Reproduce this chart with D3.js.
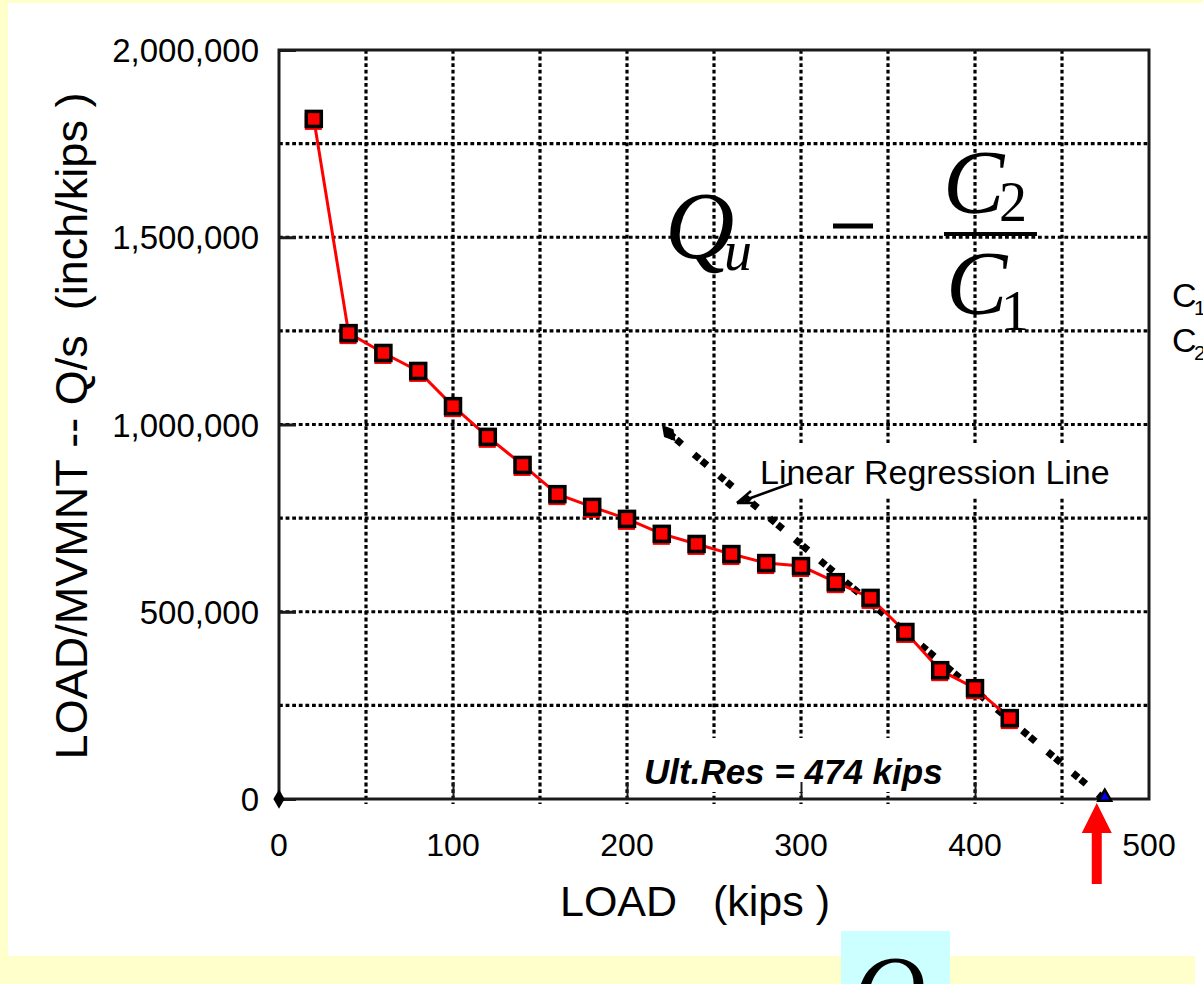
<!DOCTYPE html>
<html><head><meta charset="utf-8">
<script src="https://cdn.jsdelivr.net/npm/d3@7"></script>
<style>
html,body{margin:0;padding:0;background:#FFFFCC;overflow:hidden;}
svg{display:block;}
text{font-family:'Liberation Sans',Arial,sans-serif;fill:#000;}
.serif{font-family:'Liberation Serif','Times New Roman',serif;}
</style></head><body>
<svg id="chart" width="1203" height="984"></svg>
<script>
// ---- data ----
const loads = [20, 40, 60, 80, 100, 120, 140, 160, 180, 200, 220, 240, 260, 280, 300, 320, 340, 360, 380, 400, 420];
const qOverS = [1816000, 1244000, 1191000, 1143000, 1049000, 967000, 892000, 814000, 780000, 748000, 708000, 681000, 654000, 630000, 622000, 579000, 537000, 446000, 344000, 296000, 216000];
const regLoads = [224, 474];
const regValues = [977000, 0];
const originLoad = [0];
const originValue = [0];
const ultRes = 474;
const xTicks = [0, 100, 200, 300, 400, 500];
const yTicks = [0, 500000, 1000000, 1500000, 2000000];
const xGrid = [50, 100, 150, 200, 250, 300, 350, 400, 450];
const yGrid = [250000, 500000, 750000, 1000000, 1250000, 1500000, 1750000];
const xTitle = "LOAD   (kips )";
const yTitle = "LOAD/MVMNT -- Q/s  (inch/kips )";
const regLabel = "Linear Regression Line";
const ultLabel = "Ult.Res = " + ultRes + " kips";

// ---- layout ----
const svg = d3.select("#chart");
const L = 279, R = 1149, T = 50, B = 799;
const x = d3.scaleLinear().domain([0, 500]).range([L, R]);
const y = d3.scaleLinear().domain([0, 2000000]).range([B, T]);

// background panels
svg.append("rect").attr("x", 0).attr("y", 0).attr("width", 1203).attr("height", 984).attr("fill", "#FFFFCC");
svg.append("rect").attr("x", 8).attr("y", 3).attr("width", 1195).attr("height", 953).attr("fill", "#FFFFFF");
svg.append("rect").attr("x", 1195).attr("y", 956).attr("width", 8).attr("height", 28).attr("fill", "#FFFFFF");
svg.append("rect").attr("x", 841).attr("y", 931).attr("width", 109).attr("height", 53).attr("fill", "#CCFFFF");

// gridlines
const grid = svg.append("g").attr("stroke", "#000").attr("stroke-width", 3.2).attr("stroke-dasharray", "3.8,2.8");
grid.selectAll("line.v").data(xGrid).enter().append("line")
  .attr("x1", d => x(d)).attr("x2", d => x(d)).attr("y1", T).attr("y2", B + 5);
grid.selectAll("line.h").data(yGrid).enter().append("line")
  .attr("y1", d => y(d)).attr("y2", d => y(d)).attr("x1", L).attr("x2", R);

// white label boxes
svg.append("rect").attr("x", 745).attr("y", 443).attr("width", 372).attr("height", 54).attr("fill", "#fff");
svg.append("rect").attr("x", 637).attr("y", 738).attr("width", 334).attr("height", 54).attr("fill", "#fff");

// frame
svg.append("rect").attr("x", L).attr("y", T).attr("width", R - L).attr("height", B - T)
  .attr("fill", "none").attr("stroke", "#1a1a1a").attr("stroke-width", 3);

// axes via d3
const yAxis = d3.axisRight(y).tickValues(yTicks).tickSize(17).tickFormat("");
svg.append("g").attr("transform", `translate(${L},0)`).call(yAxis)
  .call(g => g.select(".domain").remove())
  .call(g => g.selectAll("line").attr("stroke", "#1a1a1a").attr("stroke-width", 3));
const xAxis = d3.axisTop(x).tickValues(xTicks.slice(1, 5)).tickSize(17).tickFormat("");
svg.append("g").attr("transform", `translate(0,${B})`).call(xAxis)
  .call(g => g.select(".domain").remove())
  .call(g => g.selectAll("line").attr("stroke", "#1a1a1a").attr("stroke-width", 2));

// tick labels
const fmt = d3.format(",");
svg.append("g").selectAll("text").data(yTicks).enter().append("text")
  .attr("x", 259).attr("y", d => y(d) + 12).attr("text-anchor", "end")
  .attr("font-size", 33).text(d => fmt(d));
svg.append("g").selectAll("text").data(xTicks).enter().append("text")
  .attr("x", d => x(d)).attr("y", 856).attr("text-anchor", "middle")
  .attr("font-size", 32).text(d => d);

// axis titles
svg.append("text").attr("x", 695).attr("y", 916).attr("text-anchor", "middle")
  .attr("font-size", 43).style("white-space", "pre").text(xTitle);
svg.append("text").attr("transform", "translate(87,426) rotate(-90)").attr("text-anchor", "middle")
  .attr("font-size", 45).style("white-space", "pre").text(yTitle);

// regression line
const regPts = regLoads.map((d, i) => [d, regValues[i]]);
svg.append("path").datum(regPts)
  .attr("d", d3.line().x(d => x(d[0])).y(d => y(d[1])))
  .attr("fill", "none").attr("stroke", "#000").attr("stroke-width", 7).attr("stroke-dasharray", "7,3,7,16");
svg.append("path").attr("d", d3.symbol(d3.symbolDiamond, 130)())
  .attr("transform", `translate(${x(regLoads[0])},${y(regValues[0])}) rotate(-40)`).attr("fill", "#000");

// data series
const pts = loads.map((d, i) => [d, qOverS[i]]);
svg.append("path").datum(pts)
  .attr("d", d3.line().x(d => x(d[0])).y(d => y(d[1])))
  .attr("fill", "none").attr("stroke", "#FF0000").attr("stroke-width", 3);
const mk = svg.append("g").selectAll("g").data(pts).enter().append("g")
  .attr("transform", d => `translate(${x(d[0])},${y(d[1])})`);
mk.append("rect").attr("x", -9).attr("y", -6).attr("width", 17).attr("height", 17).attr("fill", "#FF0000");
mk.append("rect").attr("x", -7.5).attr("y", -7.5).attr("width", 15).attr("height", 15)
  .attr("fill", "#FF0000").attr("stroke", "#000").attr("stroke-width", 3.5);

// origin diamond
svg.append("g").selectAll("path").data(originLoad).enter().append("path")
  .attr("d", d3.symbol(d3.symbolDiamond, 110)())
  .attr("transform", (d, i) => `translate(${x(d)},${y(originValue[i])})`).attr("fill", "#000");

// ultimate resistance triangle
svg.append("path").attr("d", d3.symbol(d3.symbolTriangle, 70)())
  .attr("transform", `translate(${x(ultRes) + 1},${y(0) - 2})`)
  .attr("fill", "#0000FF").attr("stroke", "#000").attr("stroke-width", 2.5);

// red arrow
const ax = x(ultRes) - 7;
svg.append("path")
  .attr("d", `M${ax},803 L${ax + 15},833 L${ax + 5},833 L${ax + 5},884 L${ax - 5},884 L${ax - 5},833 L${ax - 15},833 Z`)
  .attr("fill", "#FF0000");

// labels
svg.append("text").attr("x", 760).attr("y", 484).attr("font-size", 34).text(regLabel);
svg.append("line").attr("x1", 792).attr("y1", 483).attr("x2", 737).attr("y2", 503)
  .attr("stroke", "#000").attr("stroke-width", 2.5);
svg.append("path").attr("d", "M737,503 L751,491 M737,503 L754,503").attr("stroke", "#000").attr("stroke-width", 2.5);
svg.append("text").attr("x", 644).attr("y", 784).attr("font-size", 35)
  .attr("font-weight", "bold").attr("font-style", "italic").style("white-space", "pre").text(ultLabel);

// formula
const f = svg.append("g");
f.append("text").attr("class", "serif").attr("x", 665).attr("y", 258).attr("font-size", 96).attr("font-style", "italic").text("Q");
f.append("text").attr("class", "serif").attr("x", 724).attr("y", 270).attr("font-size", 56).attr("font-style", "italic").text("u");
f.append("line").attr("x1", 833).attr("x2", 873).attr("y1", 226).attr("y2", 226).attr("stroke", "#000").attr("stroke-width", 5);
f.append("text").attr("class", "serif").attr("x", 943).attr("y", 213).attr("font-size", 92).attr("font-style", "italic").text("C");
f.append("text").attr("class", "serif").attr("x", 999).attr("y", 221).attr("font-size", 56).text("2");
f.append("line").attr("x1", 944).attr("x2", 1037).attr("y1", 234).attr("y2", 234).attr("stroke", "#000").attr("stroke-width", 4);
f.append("text").attr("class", "serif").attr("x", 946).attr("y", 314).attr("font-size", 92).attr("font-style", "italic").text("C");
f.append("text").attr("class", "serif").attr("x", 1001).attr("y", 330).attr("font-size", 56).text("1");

// right-side labels
svg.append("text").attr("x", 1172).attr("y", 307).attr("font-size", 34).text("C");
svg.append("text").attr("x", 1194).attr("y", 315).attr("font-size", 21).text("1");
svg.append("text").attr("x", 1172).attr("y", 352).attr("font-size", 34).text("C");
svg.append("text").attr("x", 1194).attr("y", 360).attr("font-size", 21).text("2");

// bottom Q
svg.append("text").attr("class", "serif").attr("x", 853).attr("y", 1024).attr("font-size", 100).attr("font-style", "italic").text("Q");
</script></body></html>
